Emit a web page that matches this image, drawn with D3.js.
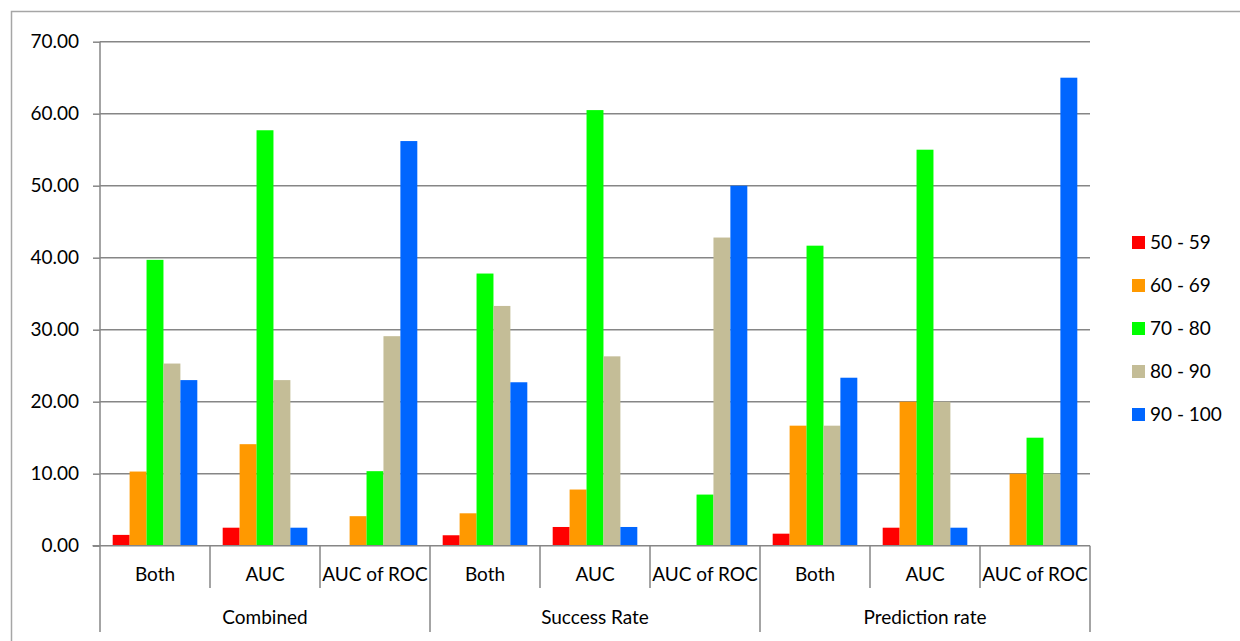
<!DOCTYPE html>
<html>
<head>
<meta charset="utf-8">
<script src="https://cdn.jsdelivr.net/npm/d3@7"></script>
<style>
  html, body { margin: 0; padding: 0; background: #fff; }
  svg { display: block; }
  text { font-family: Lato, "Open Sans", sans-serif; fill: #000; }
</style>
</head>
<body>
<svg id="chart" width="1240" height="641"></svg>
<script>
// Grouped bars: share of area (%) per class range, for each method and rate
const groups = ["Combined", "Success Rate", "Prediction rate"];
const categories = ["Both", "AUC", "AUC of ROC"];
const seriesNames = ["50 - 59", "60 - 69", "70 - 80", "80 - 90", "90 - 100"];
const seriesColors = ["#FF0000", "#FF9900", "#00FF00", "#C4BD97", "#0066FF"];

// values in order: Combined (Both, AUC, AUC of ROC), Success Rate (...), Prediction rate (...)
const range50to59 = [1.5, 2.5, 0, 1.45, 2.6, 0, 1.67, 2.5, 0];
const range60to69 = [10.3, 14.1, 4.1, 4.5, 7.8, 0, 16.67, 20.0, 10.0];
const range70to80 = [39.7, 57.7, 10.35, 37.8, 60.5, 7.1, 41.67, 55.0, 15.0];
const range80to90 = [25.3, 23.0, 29.1, 33.3, 26.3, 42.8, 16.67, 20.0, 10.0];
const range90to100 = [23.0, 2.5, 56.2, 22.7, 2.6, 50.0, 23.33, 2.5, 65.0];

const yTicks = [0, 10, 20, 30, 40, 50, 60, 70];

const seriesValues = [range50to59, range60to69, range70to80, range80to90, range90to100];

const svg = d3.select("#chart");

// outer chart frame
svg.append("rect")
  .attr("x", 11.5).attr("y", 11.5)
  .attr("width", 1300).attr("height", 700)
  .attr("fill", "none").attr("stroke", "#A6A6A6").attr("stroke-width", 1.5);

const plotLeft = 100, plotRight = 1090, plotTop = 41.7, plotBottom = 545.7;

const keys = [];
groups.forEach(g => categories.forEach(c => keys.push(g + "|" + c)));

const x0 = d3.scaleBand().domain(keys).range([plotLeft, plotRight]).padding(0);
const x1 = d3.scaleBand().domain(seriesNames).range([0, x0.bandwidth()])
  .paddingInner(0).paddingOuter(0.75);
const y = d3.scaleLinear().domain([0, 70]).range([plotBottom, plotTop]);

const axisColor = "#868686";

// horizontal gridlines
svg.append("g").selectAll("line")
  .data(yTicks.filter(d => d > 0))
  .join("line")
  .attr("x1", plotLeft).attr("x2", plotRight)
  .attr("y1", d => y(d)).attr("y2", d => y(d))
  .attr("stroke", axisColor).attr("stroke-width", 1.5);

// y axis
const yAxis = svg.append("g")
  .attr("transform", `translate(${plotLeft},0)`)
  .call(d3.axisLeft(y).tickValues(yTicks).tickFormat(d3.format(".2f")).tickSize(7).tickPadding(14));
yAxis.select(".domain").remove();
yAxis.selectAll(".tick line").attr("stroke", axisColor).attr("stroke-width", 1.5);
yAxis.selectAll(".tick text").attr("font-size", 19).attr("font-family", "Lato, sans-serif").attr("fill", "#000");

// bars
const barData = [];
keys.forEach((k, i) => {
  seriesNames.forEach((s, j) => {
    barData.push({ key: k, series: s, value: seriesValues[j][i], color: seriesColors[j] });
  });
});
svg.append("g").selectAll("rect")
  .data(barData)
  .join("rect")
  .attr("x", d => x0(d.key) + x1(d.series))
  .attr("y", d => y(d.value))
  .attr("width", x1.bandwidth())
  .attr("height", d => y(0) - y(d.value))
  .attr("fill", d => d.color);

// vertical axis line (continues down through the category tiers)
const tierBottom = 632, catBottom = 588;
svg.append("line")
  .attr("x1", plotLeft).attr("x2", plotLeft).attr("y1", plotTop).attr("y2", tierBottom)
  .attr("stroke", axisColor).attr("stroke-width", 1.5);

// baseline
svg.append("line")
  .attr("x1", plotLeft - 7.5).attr("x2", plotRight).attr("y1", y(0)).attr("y2", y(0))
  .attr("stroke", axisColor).attr("stroke-width", 1.5);

// category separators
const xAxis = svg.append("g");
keys.forEach((k, i) => {
  if (i === 0) return;
  const xb = x0(k);
  const isGroupEdge = i % categories.length === 0;
  xAxis.append("line")
    .attr("x1", xb).attr("x2", xb)
    .attr("y1", y(0)).attr("y2", isGroupEdge ? tierBottom : catBottom)
    .attr("stroke", axisColor).attr("stroke-width", 1.5);
});
xAxis.append("line")
  .attr("x1", plotRight).attr("x2", plotRight).attr("y1", y(0)).attr("y2", tierBottom)
  .attr("stroke", axisColor).attr("stroke-width", 1.5);

// category labels
xAxis.selectAll("text.cat")
  .data(keys)
  .join("text")
  .attr("class", "cat")
  .attr("x", d => x0(d) + x0.bandwidth() / 2)
  .attr("y", 581)
  .attr("text-anchor", "middle")
  .attr("font-size", 19)
  .text(d => d.split("|")[1]);

// group labels
xAxis.selectAll("text.grp")
  .data(groups)
  .join("text")
  .attr("class", "grp")
  .attr("x", g => x0(g + "|" + categories[0]) + x0.step() * categories.length / 2)
  .attr("y", 624)
  .attr("text-anchor", "middle")
  .attr("font-size", 19)
  .text(g => g);

// legend
const legend = svg.append("g").attr("transform", "translate(1132,236)");
const item = legend.selectAll("g")
  .data(seriesNames)
  .join("g")
  .attr("transform", (d, i) => `translate(0,${i * 43})`);
item.append("rect")
  .attr("width", 13).attr("height", 13)
  .attr("fill", (d, i) => seriesColors[i]);
item.append("text")
  .attr("x", 18).attr("y", 6.5)
  .attr("dy", "0.35em")
  .attr("font-size", 19)
  .text(d => d);
</script>
</body>
</html>
